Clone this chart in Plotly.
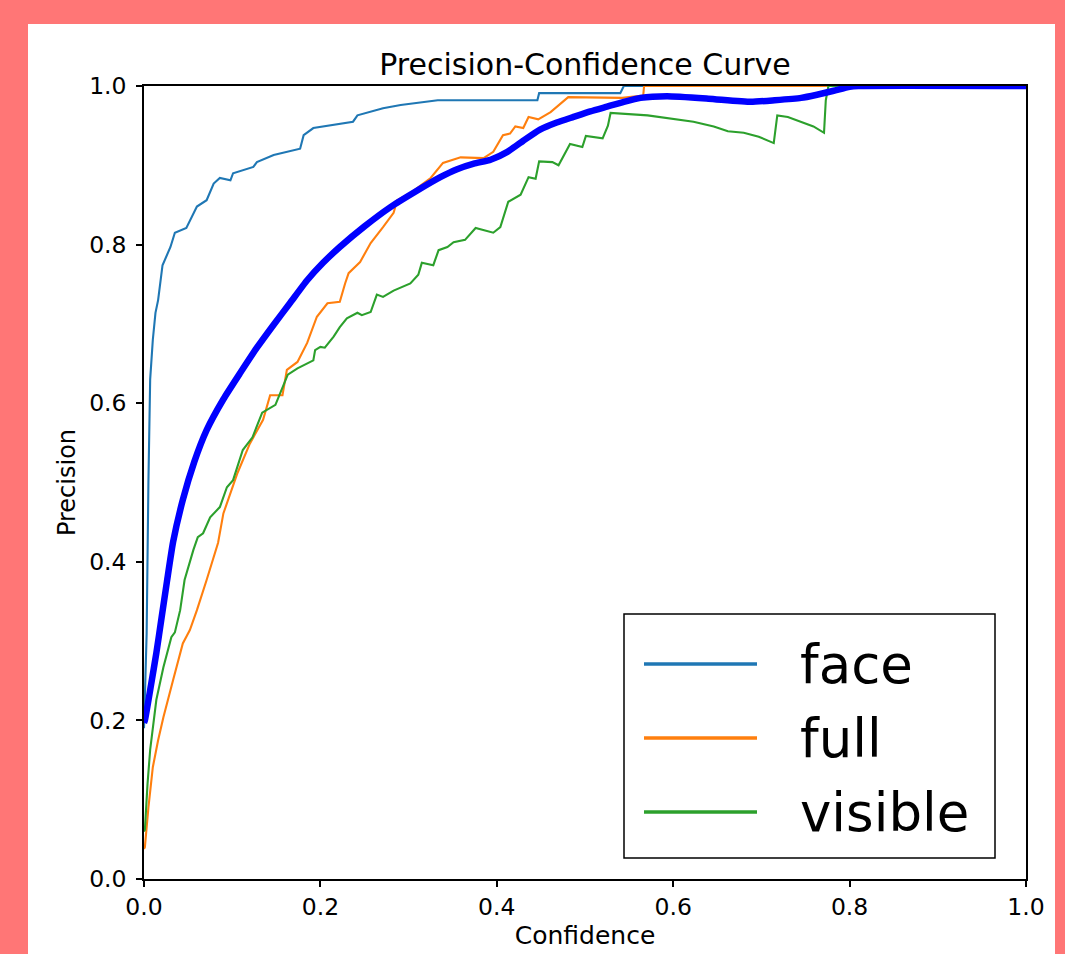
import plotly.graph_objects as go

# ---------------- data ----------------
face_x = [0.0, 0.003, 0.005, 0.007, 0.010, 0.013, 0.016, 0.019, 0.021, 0.030, 0.035, 0.048,
          0.060, 0.071, 0.079, 0.086, 0.098, 0.101, 0.124, 0.128, 0.147, 0.177, 0.181, 0.192,
          0.237, 0.242, 0.271, 0.291, 0.333, 0.446, 0.448, 0.540, 0.544, 1.0]
face_y = [0.19, 0.31, 0.50, 0.63, 0.68, 0.714, 0.73, 0.755, 0.774, 0.797, 0.815, 0.821,
          0.848, 0.856, 0.877, 0.884, 0.881, 0.890, 0.898, 0.904, 0.913, 0.921, 0.938, 0.947,
          0.955, 0.963, 0.972, 0.976, 0.982, 0.982, 0.991, 0.991, 1.0, 1.0]

full_x = [0.0, 0.001, 0.005, 0.010, 0.016, 0.022, 0.033, 0.044, 0.052, 0.060, 0.071, 0.084,
          0.090, 0.106, 0.120, 0.135, 0.143, 0.157, 0.162, 0.174, 0.185, 0.196, 0.208, 0.222,
          0.228, 0.232, 0.245, 0.257, 0.271, 0.283, 0.287, 0.302, 0.325, 0.339, 0.359, 0.385,
          0.396, 0.407, 0.415, 0.421, 0.430, 0.436, 0.447, 0.461, 0.481, 0.542, 0.566, 0.567, 1.0]
full_y = [0.038, 0.040, 0.090, 0.141, 0.175, 0.204, 0.251, 0.297, 0.314, 0.339, 0.377, 0.424,
          0.461, 0.512, 0.549, 0.579, 0.610, 0.610, 0.642, 0.652, 0.676, 0.709, 0.726, 0.728,
          0.751, 0.764, 0.778, 0.802, 0.822, 0.840, 0.856, 0.865, 0.884, 0.903, 0.910, 0.909,
          0.917, 0.938, 0.940, 0.949, 0.947, 0.961, 0.958, 0.967, 0.986, 0.985, 0.988, 1.0, 1.0]

visible_x = [0.0, 0.001, 0.004, 0.007, 0.014, 0.022, 0.031, 0.035, 0.041, 0.046, 0.056, 0.061,
             0.067, 0.075, 0.086, 0.094, 0.101, 0.112, 0.123, 0.126, 0.134, 0.149, 0.163, 0.174,
             0.192, 0.194, 0.200, 0.205, 0.215, 0.222, 0.230, 0.242, 0.247, 0.257, 0.264, 0.271,
             0.283, 0.302, 0.311, 0.315, 0.328, 0.334, 0.344, 0.351, 0.364, 0.376, 0.396, 0.404,
             0.413, 0.427, 0.436, 0.444, 0.448, 0.463, 0.470, 0.483, 0.497, 0.501, 0.520, 0.526,
             0.529, 0.571, 0.589, 0.623, 0.646, 0.662, 0.680, 0.697, 0.714, 0.718, 0.730, 0.745,
             0.759, 0.771, 0.773, 0.776, 1.0]
visible_y = [0.060, 0.062, 0.120, 0.163, 0.226, 0.267, 0.305, 0.311, 0.339, 0.377, 0.415, 0.431,
             0.436, 0.456, 0.469, 0.494, 0.503, 0.541, 0.557, 0.566, 0.588, 0.598, 0.636, 0.644,
             0.654, 0.667, 0.671, 0.670, 0.684, 0.696, 0.707, 0.714, 0.711, 0.715, 0.737, 0.734,
             0.742, 0.751, 0.762, 0.777, 0.774, 0.793, 0.797, 0.803, 0.806, 0.821, 0.815, 0.822,
             0.854, 0.863, 0.885, 0.883, 0.905, 0.904, 0.900, 0.927, 0.923, 0.937, 0.934, 0.950,
             0.966, 0.963, 0.960, 0.955, 0.949, 0.943, 0.941, 0.936, 0.928, 0.963, 0.961, 0.955,
             0.949, 0.941, 0.982, 1.0, 1.0]

mean_x = [0.0, 0.001, 0.008, 0.014, 0.020, 0.026, 0.033, 0.044, 0.057, 0.071, 0.090, 0.109,
          0.128, 0.147, 0.166, 0.185, 0.203, 0.222, 0.250, 0.279, 0.308, 0.336, 0.355, 0.374,
          0.393, 0.412, 0.430, 0.449, 0.468, 0.487, 0.506, 0.525, 0.544, 0.563, 0.593, 0.640,
          0.688, 0.715, 0.745, 0.763, 0.782, 0.800, 0.810, 1.0]
mean_y = [0.197, 0.200, 0.245, 0.285, 0.330, 0.375, 0.425, 0.478, 0.526, 0.566, 0.605, 0.638,
          0.670, 0.699, 0.727, 0.755, 0.777, 0.797, 0.823, 0.847, 0.867, 0.885, 0.895, 0.902,
          0.907, 0.917, 0.931, 0.945, 0.954, 0.961, 0.968, 0.974, 0.980, 0.985, 0.987, 0.984,
          0.980, 0.982, 0.985, 0.989, 0.994, 0.999, 1.0, 1.0]

class_names = ["face", "full", "visible"]
class_colors = ["#1f77b4", "#ff7f0e", "#2ca02c"]
tick_vals = [0.0, 0.2, 0.4, 0.6, 0.8, 1.0]

# ---------------- figure ----------------
FONT = "DejaVu Sans"
W, H = 1065, 954
L, R, T, B = 144, 1026, 86, 879   # plot area in pixels

fig = go.Figure()
series = [(face_x, face_y), (full_x, full_y), (visible_x, visible_y)]
for (xs, ys), name, col in zip(series, class_names, class_colors):
    fig.add_trace(go.Scatter(x=xs, y=ys, mode="lines", name=name,
                             line=dict(color=col, width=2.1), showlegend=False))
fig.add_trace(go.Scatter(x=mean_x, y=mean_y, mode="lines", name="all classes",
                         line=dict(color="#0000ff", width=6.5, shape="spline", smoothing=0.5),
                         showlegend=False))


def px_x(p):
    return (p - L) / (R - L)


def px_y(p):
    return (B - p) / (B - T)


shapes = [
    # white panel
    dict(type="rect", xref="paper", yref="paper", layer="below",
         x0=px_x(28), x1=px_x(1055), y0=px_y(960), y1=px_y(24),
         fillcolor="white", line=dict(width=0)),
    # legend frame
    dict(type="rect", xref="paper", yref="paper",
         x0=px_x(624), x1=px_x(995), y0=px_y(858), y1=px_y(614),
         fillcolor="white", line=dict(color="black", width=1.5)),
]
annotations = []
row_y = [664, 738, 812]
for name, col, ry in zip(class_names, class_colors, row_y):
    shapes.append(dict(type="line", xref="paper", yref="paper",
                       x0=px_x(644), x1=px_x(757), y0=px_y(ry), y1=px_y(ry),
                       line=dict(color=col, width=3.5)))
    annotations.append(dict(xref="paper", yref="paper", x=px_x(798), y=px_y(ry),
                            xanchor="left", yanchor="middle", showarrow=False,
                            text=name, font=dict(family=FONT, size=53, color="black")))

axis_common = dict(range=[0, 1], tickvals=tick_vals, tickformat=".1f",
                   showgrid=False, zeroline=False, showline=True, mirror=True,
                   linecolor="black", linewidth=1.5, ticks="outside", ticklen=6,
                   tickwidth=1.5, tickcolor="black", automargin=False,
                   tickfont=dict(family=FONT, size=23.5, color="black"))

fig.update_layout(
    width=W, height=H, autosize=False,
    margin=dict(l=L, r=W - R, t=T, b=H - B, pad=0),
    paper_bgcolor="#ff7676", plot_bgcolor="white",
    title=dict(text="Precision-Confidence Curve", x=0.5, xref="paper",
               y=1 - 64 / H, yref="container", xanchor="center", yanchor="middle",
               font=dict(family=FONT, size=30, color="black")),
    xaxis=dict(axis_common, title=dict(text="Confidence", standoff=7,
                                        font=dict(family=FONT, size=25, color="black"))),
    yaxis=dict(axis_common, ticklabelstandoff=5,
               title=dict(text="Precision", standoff=7,
                          font=dict(family=FONT, size=24, color="black"))),
    shapes=shapes, annotations=annotations, showlegend=False,
)

fig.write_html("out.html", config={"displayModeBar": False},
               post_script="document.body.style.margin='0';document.body.style.overflow='hidden';")
